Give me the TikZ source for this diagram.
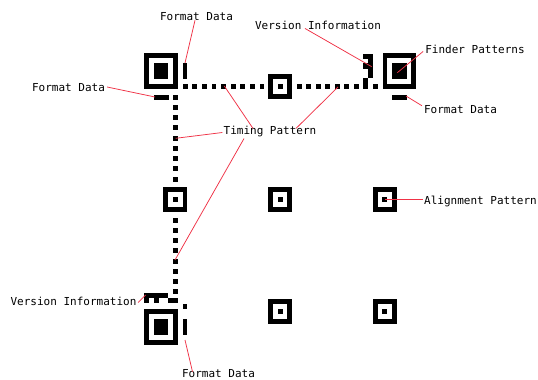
\documentclass[tikz,border=0pt]{standalone}
\usepackage{fontspec}
\setmainfont{DejaVu Sans Mono}
\definecolor{leader}{RGB}{240,50,70}
\newcommand{\blk}[4]{\fill[modfill] (#1,#2) rectangle (#3,#4);}
\newcommand{\finderpat}[2]{%
  \fill[modfill] (#1,#2) rectangle ++(33.5,36);
  \fill[white] (#1+4.7,#2+5) rectangle ++(24.1,26);
  \fill[modfill] (#1+9.5,#2+10) rectangle ++(14.5,16);}
\newcommand{\alignpat}[2]{%
  \fill[modfill] (#1,#2) rectangle ++(23.9,25);
  \fill[white] (#1+4.7,#2+5) rectangle ++(14.5,15);
  \fill[modfill] (#1+9.5,#2+10) rectangle ++(4.9,5);}
\tikzset{
  modfill/.style={fill=black},
  lbl/.style={font=\fontsize{11}{13}\selectfont,inner sep=0pt,text=black},
  conn/.style={draw=leader,line width=0.75pt},
}
\begin{document}
\begin{tikzpicture}[x=1pt,y=-1pt]
\useasboundingbox (0,0) rectangle (538,380);
\fill[white] (0,0) rectangle (538,380);
% finder patterns
\finderpat{144.4}{53.4}
\finderpat{382.6}{53.4}
\finderpat{144.4}{309}
% alignment patterns
\alignpat{268.2}{74.3}
\alignpat{163.4}{186.7}
\alignpat{268.2}{186.7}
\alignpat{372.9}{186.7}
\alignpat{268.2}{299.2}
\alignpat{372.9}{299.2}
% horizontal timing
\foreach \k in {0,...,8} {\fill[modfill] (182.7+9.6*\k,84.3) rectangle ++(4.8,5);}
\foreach \k in {0,...,6} {\fill[modfill] (296.7+9.5*\k,84.3) rectangle ++(4.8,5);}
% vertical timing
\foreach \k in {0,...,8} {\fill[modfill] (173.2,94.5+10.25*\k) rectangle ++(4.7,5);}
\foreach \k in {0,...,7} {\fill[modfill] (173.2,217.5+10.25*\k) rectangle ++(4.7,5);}
% format data
\blk{182.7}{63.4}{187.4}{78.5}
\blk{153.5}{94.5}{168.6}{99.6}
\blk{392}{94.5}{406.5}{99.6}
\blk{182.7}{304.3}{187.4}{309.2}
\blk{182.7}{319}{187.4}{335}
% version information, top right
\blk{362.7}{54}{367.7}{59}
\blk{362.7}{63.4}{367.7}{69}
\blk{362.7}{78.4}{367.7}{89.3}
\blk{367.7}{54}{372.7}{78.4}
\blk{372.7}{84.3}{377.5}{89.3}
% version information, bottom left
\blk{144.4}{293.4}{168.4}{298.4}
\blk{144.4}{298.4}{149.3}{303.3}
\blk{154}{298.4}{159}{303.3}
\blk{168.4}{298.4}{177.9}{303.3}
% labels
\node[lbl] (fmtA) at (196.5,17) {Format Data};
\node[lbl] (verA) at (318,25) {Version Information};
\node[lbl] (finder) at (475,49) {Finder Patterns};
\node[lbl] (fmtB) at (460.5,110) {Format Data};
\node[lbl] (fmtC) at (68.5,88) {Format Data};
\node[lbl] (timing) at (270,132) {Timing Pattern};
\node[lbl] (align) at (480.5,201) {Alignment Pattern};
\node[lbl] (verB) at (73.5,301.5) {Version Information};
\node[lbl] (fmtD) at (218.5,374) {Format Data};
% leader targets
\coordinate (tFmtA) at (185,63);
\coordinate (tVerA) at (371.7,66.7);
\coordinate (tFinder) at (397.3,72.7);
\coordinate (tFmtB) at (406,96);
\coordinate (tFmtC) at (155,97);
\coordinate (tTimA) at (175.7,138.3);
\coordinate (tTimB) at (224.3,86);
\coordinate (tTimC) at (338,87);
\coordinate (tTimD) at (175,260);
\coordinate (tAlign) at (385,199.7);
\coordinate (tVerB) at (145.7,295);
\coordinate (tFmtD) at (185,340);
% leaders
\draw[conn] ([xshift=-1.5pt,yshift=1pt]fmtA.south) -- (tFmtA);
\draw[conn] ([xshift=-13pt,yshift=1pt]verA.south) -- (tVerA);
\draw[conn] ([xshift=-2pt,yshift=2pt]finder.south west) -- (tFinder);
\draw[conn] ([xshift=-2pt]fmtB.north west) -- (tFmtB);
\draw[conn] ([xshift=2pt,yshift=1pt]fmtC.east) -- (tFmtC);
\draw[conn] ([xshift=-1pt,yshift=-0.5pt]timing.west) -- (tTimA);
\draw[conn] ([xshift=-17pt,yshift=-2pt]timing.north) -- (tTimB);
\draw[conn] ([xshift=26pt,yshift=-2pt]timing.north) -- (tTimC);
\draw[conn] ([xshift=-26pt,yshift=-1pt]timing.south) -- (tTimD);
\draw[conn] (align.west |- tAlign) ++(-1.5,0) -- (tAlign);
\draw[conn] ([xshift=1.5pt,yshift=-1pt]verB.east) -- (tVerB);
\draw[conn] ([xshift=-26pt,yshift=-2pt]fmtD.north) -- (tFmtD);
\end{tikzpicture}
\end{document}
